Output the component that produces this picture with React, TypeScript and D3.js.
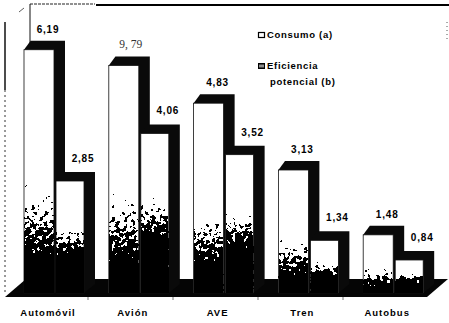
import React from "react";
import * as d3 from "d3";

const categories = ["Automóvil", "Avión", "AVE", "Tren", "Autobus"];
const consumo = [6.19, 5.79, 4.83, 3.13, 1.48];
const eficiencia = [2.85, 4.06, 3.52, 1.34, 0.84];
const consumoLabels = ["6,19", "9, 79", "4,83", "3,13", "1,48"];
const eficienciaLabels = ["2,85", "4,06", "3,52", "1,34", "0,84"];
const legendA = ["Consumo (a)"];
const legendB = ["Eficiencia", "potencial (b)"];

const W = 449;
const H = 323;
const DX = 11;
const DY = 9;
const AW = 30;
const GAP = 2;
const BW = 28;
const FONT = "'Liberation Sans', Arial, sans-serif";

function Bar({ x, top, w, base, grad }: { x: number; top: number; w: number; base: number; grad: string }) {
  const pts = [
    [x, top],
    [x + DX * 0.6, top - DY],
    [x + w + DX, top - DY],
    [x + w + DX, base - DY],
    [x + w, base],
  ]
    .map((p) => p.join(","))
    .join(" ");
  return (
    <g>
      <polygon points={pts} fill="#0a0a0a" />
      <rect x={x} y={top} width={w} height={base - top} fill="#ffffff" stroke="#111" strokeWidth={0.8} />
      <rect x={x} y={top} width={w} height={base - top} fill={`url(#${grad})`} filter="url(#grain)" />
    </g>
  );
}

export default function App() {
  const x = d3.scaleBand<string>().domain(categories).range([24, 448]).paddingInner(0).paddingOuter(0);
  const y = d3.scaleLinear().domain([0, 7]).range([293, 293 - 7 * 39.3]);
  const base = y(0);

  return (
    <svg
      width={W}
      height={H}
      viewBox={`0 0 ${W} ${H}`}
      style={{ position: "absolute", left: 0, top: 0, background: "#fff" }}
    >
      <defs>
        <linearGradient id="gA" x1="0" y1="0" x2="0" y2="1">
          <stop offset="0" stopColor="#000" stopOpacity={0} />
          <stop offset="0.35" stopColor="#000" stopOpacity={0} />
          <stop offset="0.95" stopColor="#000" stopOpacity={1} />
        </linearGradient>
        <linearGradient id="gB" x1="0" y1="0" x2="0" y2="1">
          <stop offset="0" stopColor="#000" stopOpacity={0} />
          <stop offset="0.2" stopColor="#000" stopOpacity={0} />
          <stop offset="0.75" stopColor="#000" stopOpacity={1} />
        </linearGradient>
        <filter id="grain" x="0" y="0" width="1" height="1">
          <feTurbulence type="fractalNoise" baseFrequency="0.25" numOctaves={2} seed={5} result="n" />
          <feColorMatrix
            in="n"
            type="matrix"
            values="0 0 0 0 0  0 0 0 0 0  0 0 0 0 0  1 0 0 0 0"
            result="na"
          />
          <feComposite in="SourceGraphic" in2="na" operator="arithmetic" k1="0" k2="1.2" k3="1" k4="-0.75" />
          <feComponentTransfer>
            <feFuncA type="discrete" tableValues="0 1" />
          </feComponentTransfer>
        </filter>
      </defs>

      {/* frame lines */}
      <line x1={30} y1={4} x2={95} y2={4} stroke="#222" strokeWidth={1} strokeDasharray="3,1" />
      <line x1={96} y1={5} x2={449} y2={5} stroke="#000" strokeWidth={2} />
      <line x1={30} y1={4} x2={30} y2={45} stroke="#111" strokeWidth={1} />
      <line x1={19} y1={12} x2={24} y2={8} stroke="#333" strokeWidth={0.8} />
      <line x1={5} y1={22} x2={5} y2={90} stroke="#111" strokeWidth={1.5} />
      <line x1={5} y1={90} x2={5} y2={292} stroke="#333" strokeWidth={1} strokeDasharray="2,3" />
      <line x1={447} y1={22} x2={447} y2={42} stroke="#555" strokeWidth={1} strokeDasharray="1,3" />

      {/* floor */}
      <polygon points={`5,297 427,297 448,279 26,279`} fill="#050505" />
      {[88, 173, 258, 343].map((t) => (
        <line key={t} x1={t} y1={297} x2={t} y2={300} stroke="#555" strokeWidth={0.8} />
      ))}

      {categories.map((c, i) => {
        const gx = x(c) as number;
        const ta = y(consumo[i]);
        const tb = y(eficiencia[i]);
        const bx = gx + AW + GAP;
        return (
          <g key={c}>
            <Bar x={gx} top={ta} w={AW} base={base} grad="gA" />
            <Bar x={bx} top={tb} w={BW} base={base} grad="gB" />
            {i === 1 ? (
              <text
                x={gx + AW / 2 + 7}
                y={ta - DY - 8}
                textAnchor="middle"
                fontFamily="'Liberation Serif', 'Times New Roman', serif"
                fontSize={11.5}
                fill="#333"
              >
                {consumoLabels[i]}
              </text>
            ) : (
              <text
                x={gx + AW / 2 + 9}
                y={ta - DY - 8}
                textAnchor="middle"
                fontFamily={FONT}
                fontWeight="bold"
                fontSize={10}
                letterSpacing={0.8}
                fill="#000"
              >
                {consumoLabels[i]}
              </text>
            )}
            <text
              x={bx + BW / 2 + 13}
              y={tb - DY - 10}
              textAnchor="middle"
              fontFamily={FONT}
              fontWeight="bold"
              fontSize={10}
              letterSpacing={0.8}
              fill="#000"
            >
              {eficienciaLabels[i]}
            </text>
            <text
              x={gx + 24}
              y={316}
              textAnchor="middle"
              fontFamily={FONT}
              fontWeight="bold"
              fontSize={9.5}
              letterSpacing={1}
              fill="#000"
            >
              {c}
            </text>
          </g>
        );
      })}

      {/* legend */}
      <g fontFamily={FONT} fontWeight="bold" fontSize={9.5} letterSpacing={0.7} fill="#000">
        <rect x={258.5} y={32.5} width={6} height={5} fill="#fff" stroke="#000" strokeWidth={1.2} />
        <text x={267} y={38}>{legendA[0]}</text>
        <rect x={258.5} y={63.5} width={6} height={5} fill="#444" stroke="#000" strokeWidth={1} />
        <line x1={259} y1={66} x2={264} y2={66} stroke="#fff" strokeWidth={0.8} />
        <text x={267} y={69}>{legendB[0]}</text>
        <text x={270} y={85}>{legendB[1]}</text>
      </g>
    </svg>
  );
}
